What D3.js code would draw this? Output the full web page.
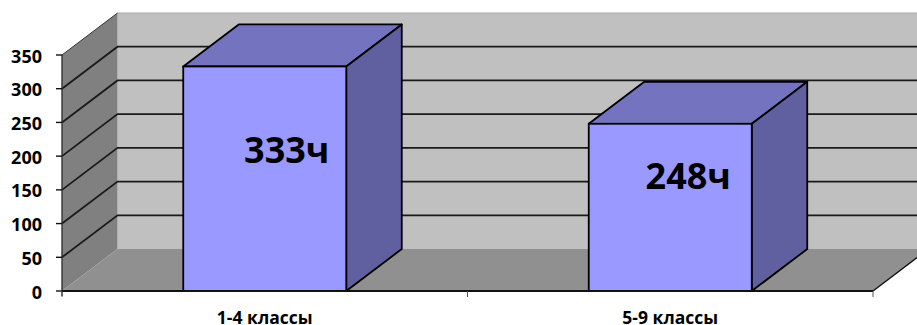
<!DOCTYPE html>
<html>
<head>
<meta charset="utf-8">
<script src="https://cdn.jsdelivr.net/npm/d3@7/dist/d3.min.js"></script>
<style>
html, body { margin: 0; padding: 0; background: #fff; overflow: hidden; }
text { font-family: "Open Sans", sans-serif; font-weight: 700; fill: #000; }
</style>
</head>
<body>
<div id="viz"></div>
<script>
var categories = ['1-4 классы', '5-9 классы'];
var hours = [333, 248];
var barLabels = ['333ч', '248ч'];
var tickValues = [0, 50, 100, 150, 200, 250, 300, 350];

var width = 917, height = 325;
var depthX = 55.5, depthY = -42;

var svg = d3.select('#viz')
    .append('svg')
    .attr('width', width)
    .attr('height', height)
    .style('display', 'block');

var x = d3.scaleBand().domain(categories).range([62, 873]).paddingInner(0.598).paddingOuter(0.299);
var y = d3.scaleLinear().domain([0, 350]).range([291, 55]);

function pts(list) {
    return list.map(function (p) { return p.join(','); }).join(' ');
}

var x0 = x.range()[0], x1 = x.range()[1];
var yBase = y(0), yTop = y(350);

// back wall
svg.append('polygon')
    .attr('points', pts([[x0 + depthX, yTop + depthY], [x1 + depthX, yTop + depthY], [x1 + depthX, yBase + depthY], [x0 + depthX, yBase + depthY]]))
    .attr('fill', '#c0c0c0');
svg.append('line')
    .attr('x1', x0 + depthX).attr('x2', width)
    .attr('y1', yTop + depthY).attr('y2', yTop + depthY)
    .attr('stroke', '#a8a8a8').attr('stroke-width', 1);

// left wall
svg.append('polygon')
    .attr('points', pts([[x0, yTop], [x0 + depthX, yTop + depthY], [x0 + depthX, yBase + depthY], [x0, yBase]]))
    .attr('fill', '#808080');

// floor
svg.append('polygon')
    .attr('points', pts([[x0, yBase], [x0 + depthX, yBase + depthY], [x1 + depthX, yBase + depthY], [x1, yBase]]))
    .attr('fill', '#909090');

// grid lines, wall then back
var grid = tickValues.filter(function (d) { return d > 0 && d < 350; });
svg.selectAll('polyline.grid')
    .data(grid)
    .enter()
    .append('polyline')
    .attr('class', 'grid')
    .attr('points', function (d) {
        return pts([[x0, y(d)], [x0 + depthX, y(d) + depthY], [x1 + depthX, y(d) + depthY]]);
    })
    .attr('fill', 'none')
    .attr('stroke', '#1a1a1a')
    .attr('stroke-width', 1.8);

// top edge of the left wall
svg.append('line')
    .attr('x1', x0).attr('y1', yTop)
    .attr('x2', x0 + depthX).attr('y2', yTop + depthY)
    .attr('stroke', '#333').attr('stroke-width', 1);

// right edge of the floor
svg.append('line')
    .attr('x1', x1).attr('y1', yBase)
    .attr('x2', x1 + depthX).attr('y2', yBase + depthY)
    .attr('stroke', '#111').attr('stroke-width', 1.4);

// bars
var bars = svg.selectAll('g.bar')
    .data(categories)
    .enter()
    .append('g')
    .attr('class', 'bar');

function barBox(i) {
    return { l: x(categories[i]), r: x(categories[i]) + x.bandwidth(), t: y(hours[i]), b: yBase };
}

bars.append('polygon')
    .attr('points', function (d, i) {
        var b = barBox(i);
        return pts([[b.l, b.t], [b.l + depthX, b.t + depthY], [b.r + depthX, b.t + depthY], [b.r, b.t]]);
    })
    .attr('fill', '#7373bf').attr('stroke', '#000').attr('stroke-width', 1.8).attr('stroke-linejoin', 'round');

bars.append('polygon')
    .attr('points', function (d, i) {
        var b = barBox(i);
        return pts([[b.r, b.t], [b.r + depthX, b.t + depthY], [b.r + depthX, b.b + depthY], [b.r, b.b]]);
    })
    .attr('fill', '#6060a0').attr('stroke', '#000').attr('stroke-width', 1.8).attr('stroke-linejoin', 'round');

bars.append('rect')
    .attr('x', function (d, i) { return barBox(i).l; })
    .attr('y', function (d, i) { return barBox(i).t; })
    .attr('width', x.bandwidth())
    .attr('height', function (d, i) { return barBox(i).b - barBox(i).t; })
    .attr('fill', '#9999ff').attr('stroke', '#000').attr('stroke-width', 1.8);

// text boxes sit a bit off the bar centre
var labelOffsetX = [103.5, 99.5];
var labelOffsetY = [97, 65];
bars.append('text')
    .text(function (d, i) { return barLabels[i]; })
    .attr('x', function (d, i) { return barBox(i).l + labelOffsetX[i]; })
    .attr('y', function (d, i) { return barBox(i).t + labelOffsetY[i]; })
    .attr('text-anchor', 'middle')
    .style('font-size', '36px');

// value axis
svg.append('line')
    .attr('x1', x0).attr('x2', x0).attr('y1', yTop).attr('y2', yBase + 5)
    .attr('stroke', '#333').attr('stroke-width', 1.4);

var yAxis = svg.selectAll('g.ytick')
    .data(tickValues)
    .enter()
    .append('g')
    .attr('class', 'ytick');

yAxis.append('line')
    .attr('x1', x0 - 6).attr('x2', x0)
    .attr('y1', function (d) { return y(d); })
    .attr('y2', function (d) { return y(d); })
    .attr('stroke', '#111').attr('stroke-width', 1.4);

yAxis.append('text')
    .text(function (d) { return d; })
    .attr('x', 42)
    .attr('y', function (d) { return y(d) + 7.5; })
    .attr('text-anchor', 'end')
    .style('font-size', '18px');

// category axis
svg.append('line')
    .attr('x1', x0).attr('x2', x1).attr('y1', yBase).attr('y2', yBase)
    .attr('stroke', '#111').attr('stroke-width', 1.8);

var step = (x1 - x0) / categories.length;
svg.selectAll('line.xtick')
    .data(d3.range(categories.length + 1))
    .enter()
    .append('line')
    .attr('class', 'xtick')
    .attr('x1', function (d) { return x0 + d * step; })
    .attr('x2', function (d) { return x0 + d * step; })
    .attr('y1', yBase)
    .attr('y2', yBase + 6)
    .attr('stroke', '#555').attr('stroke-width', 1);

svg.selectAll('text.cat')
    .data(categories)
    .enter()
    .append('text')
    .attr('class', 'cat')
    .text(function (d) { return d; })
    .attr('x', function (d) { return x(d) + x.bandwidth() / 2; })
    .attr('y', 324)
    .attr('text-anchor', 'middle')
    .style('font-size', '17.5px');
</script>
</body>
</html>
